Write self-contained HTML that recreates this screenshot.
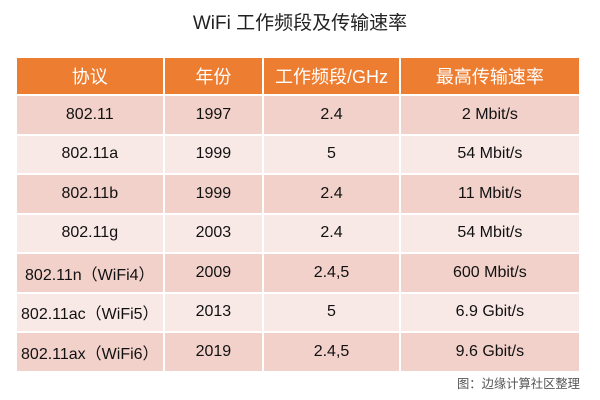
<!DOCTYPE html>
<html><head><meta charset="utf-8"><style>
body{margin:0;width:600px;height:400px;background:#fff;font-family:"Liberation Sans","Noto Sans CJK SC",sans-serif;position:relative;overflow:hidden}
.title{position:absolute;top:8px;left:0;width:600px;text-align:center;font-size:19px;color:#222}
table{position:absolute;left:15px;top:56px;width:566px;border-collapse:collapse}
td,th{border:2px solid #fff;text-align:center;font-size:16px;color:#111;padding:0;font-weight:normal}
th{background:#ed7d31;color:#fff;height:36px;font-size:18px}
td{height:37.5px}
tr.a td{background:#f2d1ca}
tr.b td{background:#f9e9e6}
.cap{position:absolute;left:457px;top:374px;font-size:12.3px;color:#555;white-space:nowrap}
</style></head><body>
<div class="title">WiFi 工作频段及传输速率</div>
<table>
<colgroup><col style="width:148px"><col style="width:100px"><col style="width:137px"><col style="width:181px"></colgroup>
<tr><th>协议</th><th>年份</th><th>工作频段/GHz</th><th>最高传输速率</th></tr>
<tr class="a"><td>802.11</td><td>1997</td><td>2.4</td><td>2 Mbit/s</td></tr>
<tr class="b"><td>802.11a</td><td>1999</td><td>5</td><td>54 Mbit/s</td></tr>
<tr class="a"><td>802.11b</td><td>1999</td><td>2.4</td><td>11 Mbit/s</td></tr>
<tr class="b"><td>802.11g</td><td>2003</td><td>2.4</td><td>54 Mbit/s</td></tr>
<tr class="a"><td>802.11n（WiFi4）</td><td>2009</td><td>2.4,5</td><td>600 Mbit/s</td></tr>
<tr class="b"><td>802.11ac（WiFi5）</td><td>2013</td><td>5</td><td>6.9 Gbit/s</td></tr>
<tr class="a"><td>802.11ax（WiFi6）</td><td>2019</td><td>2.4,5</td><td>9.6 Gbit/s</td></tr>
</table>
<div class="cap">图：边缘计算社区整理</div>
</body></html>
